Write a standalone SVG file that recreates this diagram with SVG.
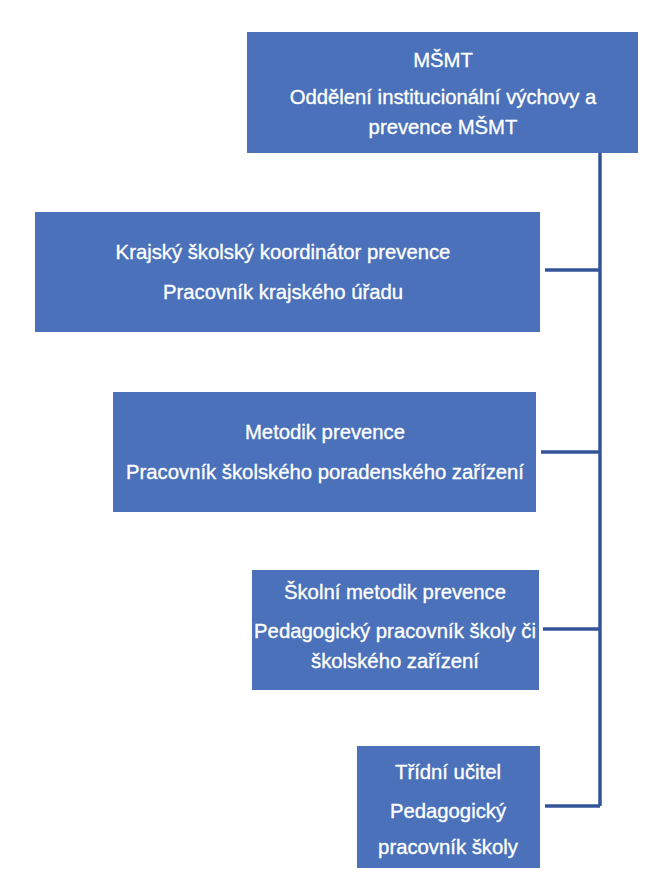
<svg xmlns="http://www.w3.org/2000/svg" width="666" height="877" viewBox="0 0 666 877">
<style>
.box{fill:#4a71b9;}
.t{fill:#ffffff;stroke:#ffffff;stroke-width:0.35;font-family:"Liberation Sans","Open Sans",sans-serif;font-size:20.3px;text-anchor:middle;}
.c{stroke:#34549a;stroke-width:3.5;fill:none;}
</style>
<rect width="666" height="877" fill="#ffffff"/>
<g id="connectors">
<path class="c" d="M600 153 V806"/>
<path class="c" d="M545 270 H600"/>
<path class="c" d="M541 452 H600"/>
<path class="c" d="M543 629 H600"/>
<path class="c" d="M545 806 H600"/>
</g>
<g id="n1">
<rect class="box" x="247" y="32" width="391" height="121"/>
<text class="t" x="443" y="67">MŠMT</text>
<text class="t" x="443" y="104">Oddělení institucionální výchovy a</text>
<text class="t" x="443" y="134">prevence MŠMT</text>
</g>
<g id="n2">
<rect class="box" x="35" y="212" width="505" height="120"/>
<text class="t" x="283" y="259">Krajský školský koordinátor prevence</text>
<text class="t" x="283" y="299">Pracovník krajského úřadu</text>
</g>
<g id="n3">
<rect class="box" x="113" y="392" width="423" height="120"/>
<text class="t" x="325" y="439">Metodik prevence</text>
<text class="t" x="325" y="479">Pracovník školského poradenského zařízení</text>
</g>
<g id="n4">
<rect class="box" x="252" y="570" width="287" height="120"/>
<text class="t" x="395" y="599">Školní metodik prevence</text>
<text class="t" x="395" y="638">Pedagogický pracovník školy či</text>
<text class="t" x="395" y="668">školského zařízení</text>
</g>
<g id="n5">
<rect class="box" x="357" y="746" width="183" height="122"/>
<text class="t" x="448" y="779">Třídní učitel</text>
<text class="t" x="448" y="818">Pedagogický</text>
<text class="t" x="448" y="854">pracovník školy</text>
</g>
</svg>
